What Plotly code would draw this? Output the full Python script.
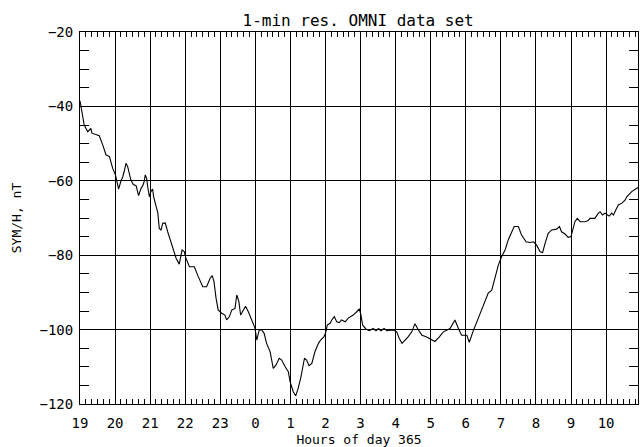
import plotly.graph_objects as go

# SYM/H index, 1-minute OMNI data, from 19 UT on day 364 into day 365.
# Time is in hours counted from 00 UT of day 364 (24 = 00 UT of day 365).
hours = [
    19.00, 19.06, 19.09, 19.12, 19.22, 19.31, 19.34, 19.55, 19.65, 19.74,
    19.84, 19.93, 20.01, 20.05, 20.10, 20.17, 20.22, 20.26, 20.31, 20.36,
    20.45, 20.52, 20.60, 20.67, 20.74, 20.79, 20.83, 20.86, 20.90, 20.93,
    20.98, 21.02, 21.07, 21.10, 21.17, 21.22, 21.26, 21.31, 21.36, 21.43,
    21.50, 21.59, 21.66, 21.74, 21.83, 21.91, 21.97, 22.02, 22.12, 22.26,
    22.36, 22.50, 22.61, 22.71, 22.77, 22.82, 22.88, 22.94, 23.04, 23.13,
    23.18, 23.26, 23.33, 23.42, 23.47, 23.53, 23.58, 23.66, 23.72, 23.80,
    23.90, 23.99, 24.04, 24.11, 24.18, 24.25, 24.32, 24.42, 24.51, 24.59,
    24.68, 24.75, 24.85, 24.94, 24.99, 25.08, 25.15, 25.22, 25.30, 25.40,
    25.46, 25.53, 25.61, 25.67, 25.70, 25.80, 25.86, 25.96, 26.01, 26.05,
    26.13, 26.18, 26.25, 26.32, 26.39, 26.46, 26.56, 26.65, 26.79, 26.89,
    26.96, 27.00, 27.06, 27.16, 27.25, 27.36, 27.44, 27.51, 27.58, 27.67,
    27.75, 27.93, 28.03, 28.10, 28.18, 28.27, 28.36, 28.46, 28.55, 28.65,
    28.75, 28.87, 28.98, 29.12, 29.24, 29.36, 29.55, 29.69, 29.79, 29.88,
    30.03, 30.10, 30.21, 30.36, 30.50, 30.64, 30.74, 30.83, 30.93, 31.02,
    31.12, 31.21, 31.31, 31.38, 31.50, 31.59, 31.72, 31.83, 31.93, 32.02,
    32.12, 32.19, 32.26, 32.35, 32.45, 32.59, 32.67, 32.73, 32.83, 32.92,
    33.00, 33.05, 33.11, 33.18, 33.26, 33.40, 33.49, 33.54, 33.68, 33.78,
    33.83, 33.90, 33.97, 34.04, 34.09, 34.16, 34.21, 34.28, 34.35, 34.45,
    34.54, 34.59, 34.73, 34.91,
]
symh = [
    -38.5, -41.9, -42.8, -45.0, -46.8, -45.9, -47.2, -47.9, -50.4, -53.0,
    -53.5, -56.6, -58.4, -60.0, -62.2, -60.0, -58.9, -57.5, -55.3, -56.2,
    -59.8, -61.0, -61.3, -64.0, -62.0, -61.3, -60.2, -58.4, -59.3, -61.6,
    -64.3, -62.9, -62.2, -64.3, -66.5, -68.7, -72.8, -73.2, -71.4, -71.3,
    -73.7, -76.4, -79.0, -80.8, -82.4, -78.6, -79.0, -80.8, -83.1, -83.1,
    -85.5, -88.5, -88.5, -86.2, -85.5, -87.1, -91.6, -94.7, -95.6, -96.1,
    -97.4, -96.5, -94.7, -94.3, -90.7, -92.5, -96.1, -94.7, -93.7, -95.2,
    -97.4, -99.6, -102.8, -100.1, -100.1, -101.0, -103.7, -105.9, -110.4, -109.5,
    -107.7, -108.2, -110.0, -111.3, -114.0, -116.7, -117.8, -115.8, -112.7, -107.7,
    -108.2, -109.7, -109.1, -106.4, -105.9, -103.7, -102.8, -101.9, -100.6, -98.8,
    -98.3, -97.4, -96.5, -97.9, -98.1, -97.4, -97.9, -96.9, -96.1, -95.2,
    -94.5, -95.6, -98.8, -99.9, -100.3, -99.7, -100.3, -99.7, -100.3, -99.7,
    -100.3, -100.1, -100.6, -102.3, -103.7, -102.8, -101.9, -100.6, -98.4, -100.1,
    -101.5, -101.9, -102.5, -103.2, -102.0, -100.6, -99.7, -97.4, -99.7, -101.5,
    -101.5, -103.4, -100.4, -96.7, -93.8, -90.2, -89.4, -85.8, -82.6, -80.4,
    -78.6, -75.9, -73.7, -72.3, -72.3, -74.6, -76.4, -76.6, -76.4, -77.3,
    -79.1, -79.3, -76.8, -74.1, -73.2, -73.0, -72.3, -73.7, -74.3, -75.2,
    -75.0, -73.2, -71.0, -70.1, -71.0, -71.0, -70.7, -70.1, -70.1, -68.7,
    -68.3, -69.2, -68.7, -69.2, -69.5, -68.7, -69.2, -67.8, -66.5, -66.0,
    -65.2, -64.3, -62.9, -61.8,
]

x_tickvals = list(range(19, 35))
x_ticktext = [str(h % 24) for h in x_tickvals]
y_tickvals = [-120, -100, -80, -60, -40, -20]

FONT = "DejaVu Sans Mono"

fig = go.Figure()
fig.add_trace(go.Scatter(
    x=hours, y=symh, mode="lines",
    line=dict(color="black", width=1.1),
    hoverinfo="skip", showlegend=False,
))

axis_common = dict(
    showline=True, linecolor="black", linewidth=1, mirror="ticks",
    showgrid=True, gridcolor="black", gridwidth=1, zeroline=False,
    ticks="inside", tickcolor="black", automargin=False,
    tickfont=dict(family=FONT, size=14, color="black"),
)

fig.update_xaxes(
    range=[19, 34.91], tickmode="array", tickvals=x_tickvals, ticktext=x_ticktext,
    ticklen=5, ticklabelstandoff=6,
    minor=dict(tick0=19, dtick=1 / 6, ticks="inside", ticklen=5, tickcolor="black", showgrid=False),
    title=dict(text="Hours of day 365", font=dict(family=FONT, size=13, color="black"), standoff=8),
    **axis_common,
)
fig.update_yaxes(
    range=[-120, -20], tickmode="array", tickvals=y_tickvals,
    ticklen=9, ticklabelstandoff=3,
    minor=dict(tick0=-120, dtick=5, ticks="inside", ticklen=9, tickcolor="black", showgrid=False),
    title=dict(text="SYM/H, nT", font=dict(family=FONT, size=13, color="black"), standoff=14),
    **axis_common,
)

fig.update_layout(
    width=643, height=447,
    margin=dict(l=80, r=5, t=32, b=43),
    paper_bgcolor="white", plot_bgcolor="white",
    title=dict(text="1-min res. OMNI data set", x=0.557, xanchor="center",
               y=0.955, yanchor="middle",
               font=dict(family=FONT, size=16, color="black")),
    font=dict(family=FONT, color="black"),
)

fig.write_html("out.html")
